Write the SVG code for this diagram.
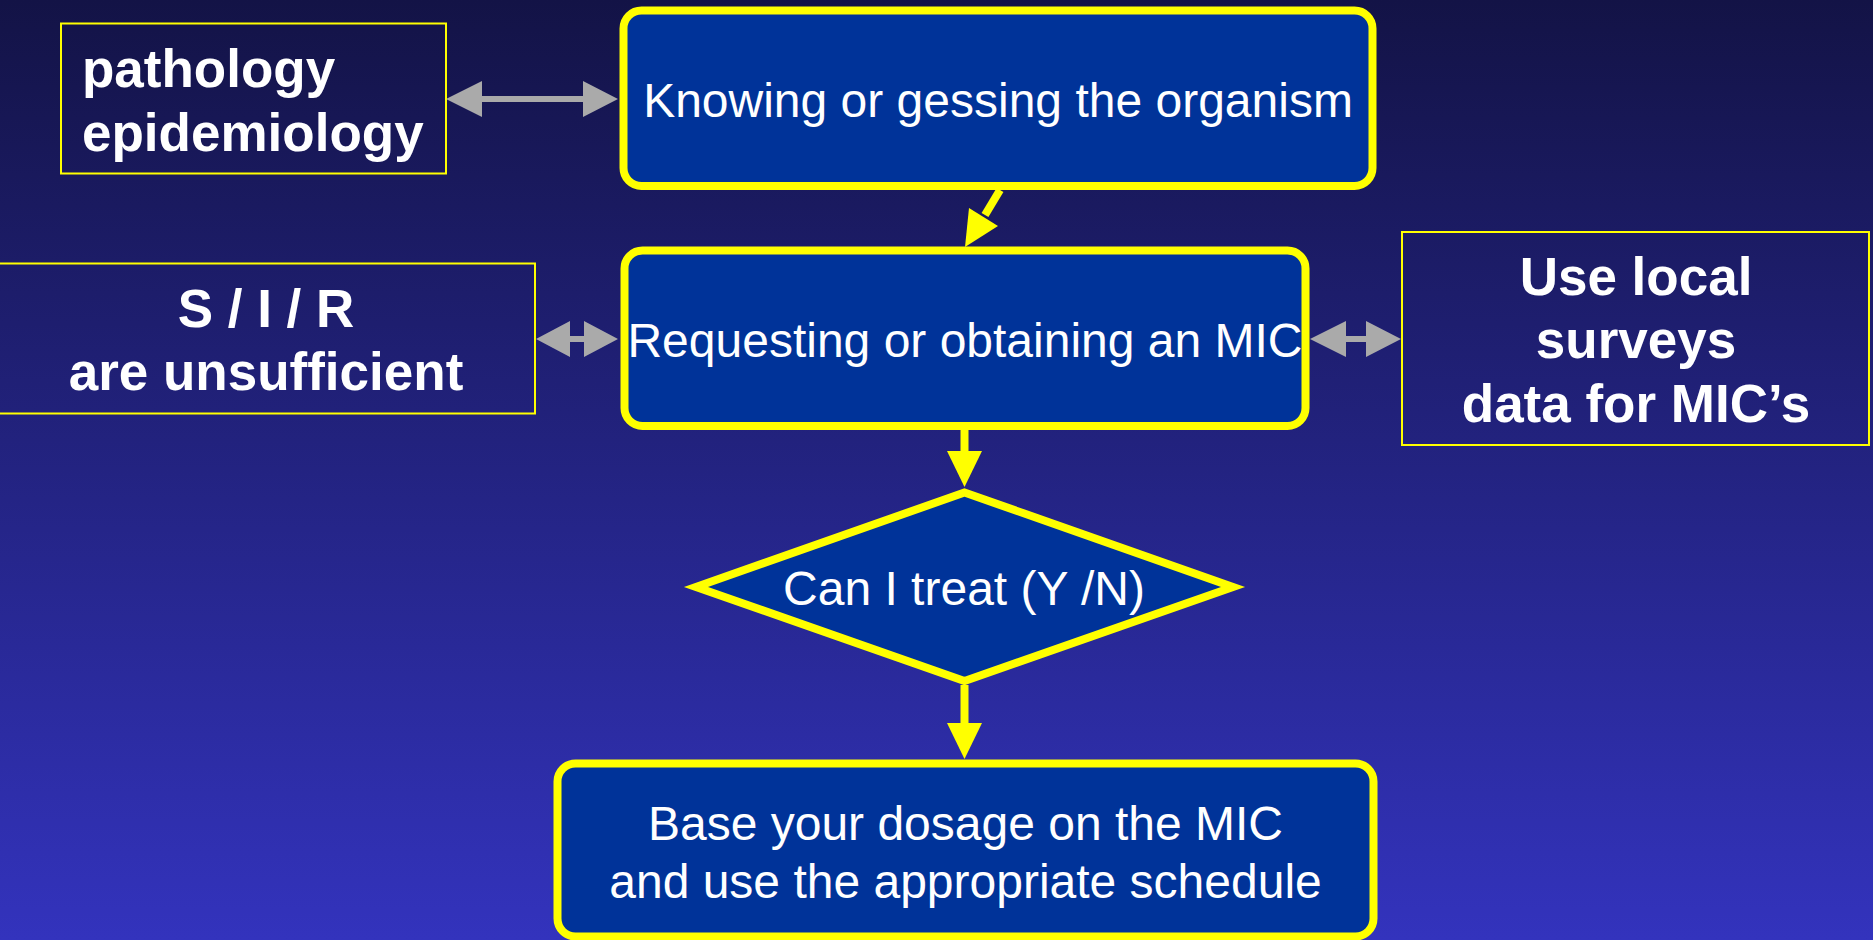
<svg xmlns="http://www.w3.org/2000/svg" width="1873" height="940" viewBox="0 0 1873 940">
  <defs>
    <linearGradient id="bg" x1="0" y1="0" x2="0" y2="1">
      <stop offset="0" stop-color="#131346"/>
      <stop offset="1" stop-color="#3333bd"/>
    </linearGradient>
    <style>
      .step { fill: #003399; stroke: #ffff00; stroke-width: 8; }
      .side { fill: none; stroke: #ffff00; stroke-width: 2; }
      .t { font-family: "Liberation Sans", Arial, sans-serif; fill: #ffffff; font-size: 48px; }
      .b { font-family: "Liberation Sans", Arial, sans-serif; fill: #ffffff; font-size: 53px; font-weight: bold; }
      .mid { text-anchor: middle; }
      .gray { fill: #aaaaaa; }
      .ys { stroke: #ffff00; stroke-width: 8; fill: none; }
      .yh { fill: #ffff00; }
    </style>
  </defs>
  <rect x="0" y="0" width="1873" height="940" fill="url(#bg)"/>

  <g id="connectors">
    <polygon class="gray" points="446,99 482,81 482,96 583,96 583,81 618,99 583,117 583,102 482,102 482,117"/>
    <polygon class="gray" points="536,339 570,321 570,336 584,336 584,321 618,339 584,357 584,342 570,342 570,357"/>
    <polygon class="gray" points="1310,339 1346,321 1346,336 1366,336 1366,321 1401,339 1366,357 1366,342 1346,342 1346,357"/>
    <line class="ys" x1="1000" y1="190" x2="985" y2="215"/>
    <polygon class="yh" points="965,247 969,208 998,226"/>
    <line class="ys" x1="964.5" y1="430" x2="964.5" y2="453"/>
    <polygon class="yh" points="947,451 982,451 964.5,487"/>
    <line class="ys" x1="964.5" y1="685" x2="964.5" y2="725"/>
    <polygon class="yh" points="947,723 982,723 964.5,759"/>
  </g>

  <g id="pathology">
    <rect class="side" x="61" y="23.5" width="385" height="150"/>
    <text class="b" x="82" y="87">pathology</text>
    <text class="b" x="82" y="151">epidemiology</text>
  </g>

  <g id="sir">
    <rect class="side" x="-3" y="263.5" width="538" height="150"/>
    <text class="b mid" x="266" y="327">S / I / R</text>
    <text class="b mid" x="266" y="390">are unsufficient</text>
  </g>

  <g id="local">
    <rect class="side" x="1402" y="232" width="467" height="213"/>
    <text class="b mid" x="1636" y="295">Use local</text>
    <text class="b mid" x="1636" y="358">surveys</text>
    <text class="b mid" x="1636" y="422">data for MIC’s</text>
  </g>

  <g id="knowing">
    <rect class="step" x="623.5" y="10.5" width="749" height="175.5" rx="18"/>
    <text class="t mid" x="998" y="117">Knowing or gessing the organism</text>
  </g>

  <g id="requesting">
    <rect class="step" x="624.5" y="250.5" width="681" height="175.5" rx="18"/>
    <text class="t mid" x="965" y="357">Requesting or obtaining an MIC</text>
  </g>

  <g id="decision">
    <polygon class="step" points="964.5,492.5 1233,587 964.5,681 696,587"/>
    <text class="t mid" x="964" y="605">Can I treat (Y /N)</text>
  </g>

  <g id="dosage">
    <rect class="step" x="557.5" y="763.5" width="816" height="173" rx="18"/>
    <text class="t mid" x="965.5" y="840">Base your dosage on the MIC</text>
    <text class="t mid" x="965.5" y="898">and use the appropriate schedule</text>
  </g>
</svg>
